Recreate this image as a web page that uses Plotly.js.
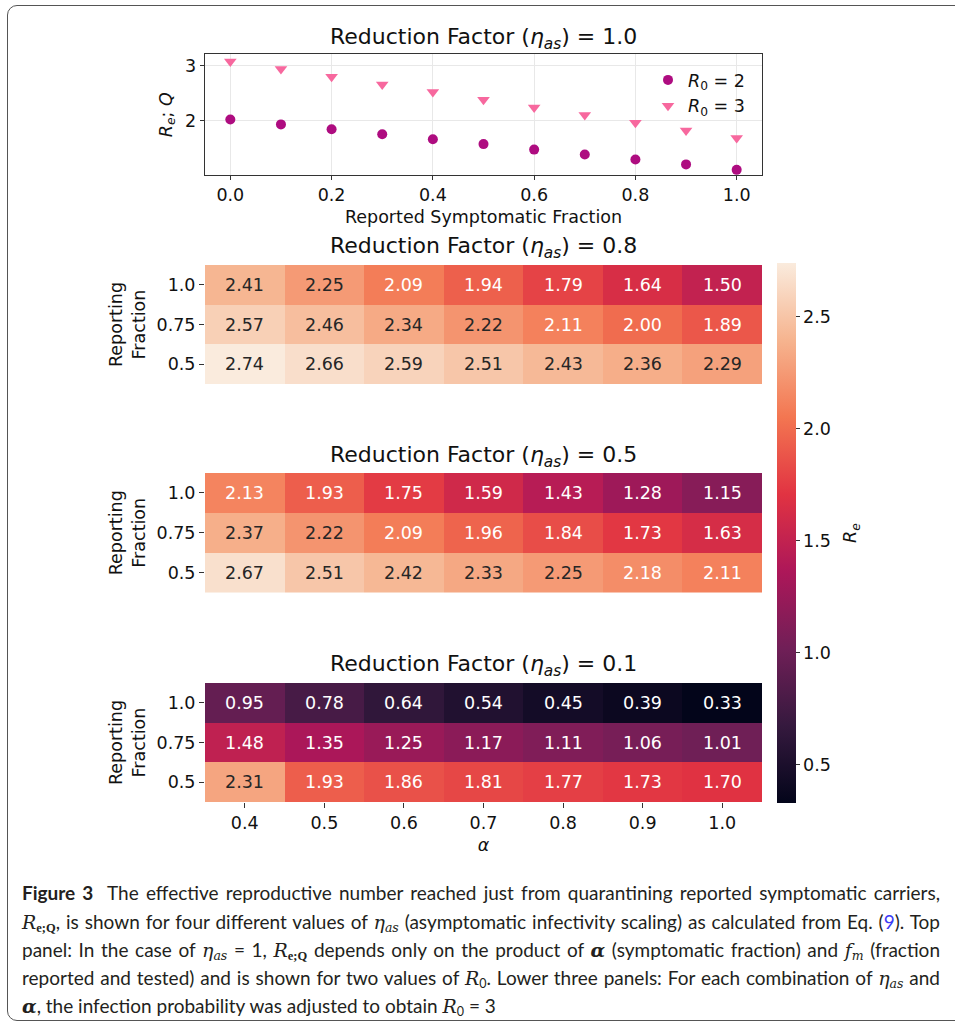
<!DOCTYPE html>
<html>
<head>
<meta charset="utf-8">
<script src="https://cdn.plot.ly/plotly-3.0.1.min.js"></script>
<style>
  html, body { margin: 0; padding: 0; background: #fff; }
  #wrap { position: relative; width: 955px; height: 1026px; overflow: hidden; }
  #chart { position: absolute; left: 0; top: 0; width: 955px; height: 1026px; }
  #frame { position: absolute; left: 7px; top: 5px; width: 980px; height: 1016px;
           border: 1.5px solid #555; border-radius: 10px; box-sizing: border-box; pointer-events: none; }
  .cap { position: absolute; left: 22px; width: 918px; white-space: nowrap;
         font-family: Lato, "Open Sans", sans-serif; font-size: 19px; color: #231f20;
         text-align: justify; text-align-last: justify; line-height: 20px; }
  .cap.last { text-align: left; text-align-last: left; }
  .m { font-family: "DejaVu Serif", "Liberation Serif", serif; font-style: italic; }
  .sb { font-size: 12.5px; vertical-align: -3px; line-height: 0; }
  .bs { font-family: "Liberation Serif", serif; font-weight: bold; font-style: normal; }
  .link { color: #3b3bf5; }
</style>
</head>
<body>
<div id="wrap">
  <div id="chart"></div>
  <div id="frame"></div>
  <div class="cap" style="top:883px"><b>Figure 3</b>&nbsp; The effective reproductive number reached just from quarantining reported symptomatic carriers,</div>
  <div class="cap" style="top:912px"><span class="m">R</span><span class="sb bs">e;Q</span>, is shown for four different values of <span class="m">η</span><span class="sb m">as</span> (asymptomatic infectivity scaling) as calculated from Eq. (<span class="link">9</span>). Top</div>
  <div class="cap" style="top:940px">panel: In the case of <span class="m">η</span><span class="sb m">as</span> = 1, <span class="m">R</span><span class="sb bs">e;Q</span> depends only on the product of <span class="m"><b>α</b></span> (symptomatic fraction) and <span class="m">f</span><span class="sb m">m</span> (fraction</div>
  <div class="cap" style="top:968px">reported and tested) and is shown for two values of <span class="m">R</span><span class="sb">0</span>. Lower three panels: For each combination of <span class="m">η</span><span class="sb m">as</span> and</div>
  <div class="cap last" style="top:996px"><span class="m"><b>α</b></span>, the infection probability was adjusted to obtain <span class="m">R</span><span class="sb">0</span> = 3</div>
</div>
<script>
// ---------- data ----------
const reportedSymptomaticFraction = [0.0, 0.1, 0.2, 0.3, 0.4, 0.5, 0.6, 0.7, 0.8, 0.9, 1.0];
const reQ_R0_2 = [2.02, 1.93, 1.84, 1.75, 1.66, 1.57, 1.47, 1.38, 1.29, 1.20, 1.10];
const reQ_R0_3 = [3.08, 2.94, 2.80, 2.66, 2.52, 2.38, 2.24, 2.10, 1.96, 1.82, 1.68];
const topXTicks = [0.0, 0.2, 0.4, 0.6, 0.8, 1.0];
const topXTickText = ["0.0", "0.2", "0.4", "0.6", "0.8", "1.0"];
const topYTicks = [2, 3];

const alphaLabels = ["0.4", "0.5", "0.6", "0.7", "0.8", "0.9", "1.0"];
const reportingLabels = ["1.0", "0.75", "0.5"];
const re_eta08 = [
  [2.41, 2.25, 2.09, 1.94, 1.79, 1.64, 1.50],
  [2.57, 2.46, 2.34, 2.22, 2.11, 2.00, 1.89],
  [2.74, 2.66, 2.59, 2.51, 2.43, 2.36, 2.29]
];
const re_eta05 = [
  [2.13, 1.93, 1.75, 1.59, 1.43, 1.28, 1.15],
  [2.37, 2.22, 2.09, 1.96, 1.84, 1.73, 1.63],
  [2.67, 2.51, 2.42, 2.33, 2.25, 2.18, 2.11]
];
const re_eta01 = [
  [0.95, 0.78, 0.64, 0.54, 0.45, 0.39, 0.33],
  [1.48, 1.35, 1.25, 1.17, 1.11, 1.06, 1.01],
  [2.31, 1.93, 1.86, 1.81, 1.77, 1.73, 1.70]
];
const etaValues = ["1.0", "0.8", "0.5", "0.1"];
const colorbarTicks = [0.5, 1.0, 1.5, 2.0, 2.5];
const colorbarTickText = ["0.5", "1.0", "1.5", "2.0", "2.5"];

// ---------- styling ----------
const W = 955, H = 1026;
const px = v => v / W;
const py = v => 1 - v / H;
const FONT = "DejaVu Sans";
const FS = 17.5;
const rocket = [
  [0.0, "#03051a"], [1/7, "#35193e"], [2/7, "#701f57"], [3/7, "#ad1759"],
  [4/7, "#e13342"], [5/7, "#f37651"], [6/7, "#f6b48f"], [1.0, "#faebdd"]
];
const allVals = [].concat(...re_eta08, ...re_eta05, ...re_eta01);
const zmin = Math.min(...allVals), zmax = Math.max(...allVals);

function hex2rgb(h) { return [1,3,5].map(i => parseInt(h.substr(i, 2), 16)); }
function colorAt(v) {
  let t = (v - zmin) / (zmax - zmin);
  t = Math.max(0, Math.min(1, t));
  for (let i = 1; i < rocket.length; i++) {
    if (t <= rocket[i][0]) {
      const a = rocket[i-1], b = rocket[i];
      const f = (t - a[0]) / (b[0] - a[0]);
      const ca = hex2rgb(a[1]), cb = hex2rgb(b[1]);
      return ca.map((c, k) => c + f * (cb[k] - c));
    }
  }
  return hex2rgb(rocket[rocket.length-1][1]);
}
function lum(rgb) {
  const l = rgb.map(c => { c /= 255; return c <= 0.03928 ? c / 12.92 : Math.pow((c + 0.055) / 1.055, 2.4); });
  return 0.2126 * l[0] + 0.7152 * l[1] + 0.0722 * l[2];
}

const xDom = [px(205), px(762)];
const panels = [
  { z: re_eta08, top: 265, bot: 384, title: 247.5 },
  { z: re_eta05, top: 473, bot: 592.5, title: 456 },
  { z: re_eta01, top: 683, bot: 802, title: 665 }
];

const traces = [
  { type: "scatter", mode: "markers", x: reportedSymptomaticFraction, y: reQ_R0_2,
    name: "<i>R</i><sub>0</sub> = 2", xaxis: "x", yaxis: "y",
    marker: { symbol: "circle", size: 10, color: "#ae0c80" } },
  { type: "scatter", mode: "markers", x: reportedSymptomaticFraction, y: reQ_R0_3,
    name: "<i>R</i><sub>0</sub> = 3", xaxis: "x", yaxis: "y",
    marker: { symbol: "triangle-down", size: 11, color: "#f7689e" } }
];

const annotations = [];
const TFS = 22;
const titleText = e => "Reduction Factor (<i>η</i><sub><i>as</i></sub>) = " + e;
annotations.push({ xref: "paper", yref: "paper", x: px(483.5), y: py(39), text: titleText(etaValues[0]),
  showarrow: false, xanchor: "center", yanchor: "middle", font: { family: FONT, size: TFS, color: "#111" } });

const layout = {
  width: W, height: H, margin: { l: 0, r: 0, t: 0, b: 0 },
  paper_bgcolor: "#fff", plot_bgcolor: "#fff",
  font: { family: FONT, size: FS, color: "#111" },
  showlegend: true,
  legend: { x: px(750), xanchor: "right", y: py(62), yanchor: "top", bgcolor: "rgba(0,0,0,0)",
            font: { family: FONT, size: FS, color: "#111" }, itemwidth: 30, tracegroupgap: 0 },
  xaxis: { domain: xDom, anchor: "y", range: [-0.05, 1.05], tickvals: topXTicks, ticktext: topXTickText,
           showgrid: true, gridcolor: "#e8e8e8", gridwidth: 1, zeroline: false,
           showline: true, mirror: true, linecolor: "#333", linewidth: 1.3,
           ticks: "outside", ticklen: 4, tickcolor: "#333", tickfont: { size: FS },
           title: { text: "Reported Symptomatic Fraction", font: { size: FS }, standoff: 6 } },
  yaxis: { domain: [py(175), py(54.3)], anchor: "x", range: [1.006, 3.21], tickvals: topYTicks,
           showgrid: true, gridcolor: "#e8e8e8", gridwidth: 1, zeroline: false,
           showline: true, mirror: true, linecolor: "#333", linewidth: 1.3,
           ticks: "outside", ticklen: 4, tickcolor: "#333", tickfont: { size: FS },
           title: { text: "<i>R<sub>e</sub></i>; <i>Q</i>", font: { size: FS }, standoff: 8 } },
  coloraxis: {
    colorscale: rocket, cmin: zmin, cmax: zmax,
    colorbar: { x: px(777), xanchor: "left", xref: "paper", y: py(263), yanchor: "top",
                len: 540, lenmode: "pixels", thickness: 19, thicknessmode: "pixels",
                xpad: 0, ypad: 0, outlinewidth: 0, ticks: "outside", ticklen: 4, tickcolor: "#333",
                tickvals: colorbarTicks, ticktext: colorbarTickText,
                tickfont: { family: FONT, size: FS, color: "#111" } }
  },
  annotations: annotations
};

panels.forEach((p, i) => {
  const n = i + 2;
  const xa = "x" + n, ya = "y" + n;
  traces.push({ type: "heatmap", x: alphaLabels, y: reportingLabels, z: p.z, coloraxis: "coloraxis",
                xaxis: xa, yaxis: ya, hoverinfo: "skip", xgap: 0, ygap: 0, showlegend: false });
  const last = i === panels.length - 1;
  layout["xaxis" + n] = { domain: xDom, anchor: ya, type: "category", showgrid: false, zeroline: false,
    showline: false, showticklabels: last, ticks: last ? "outside" : "", ticklen: 5, tickcolor: "#333",
    tickfont: { size: FS },
    title: last ? { text: "<i>α</i>", font: { size: FS }, standoff: 6 } : { text: "" } };
  layout["yaxis" + n] = { domain: [py(p.bot), py(p.top)], anchor: xa, type: "category",
    autorange: "reversed", showgrid: false, zeroline: false, showline: false,
    ticks: "outside", ticklen: 5, tickcolor: "#333", tickfont: { size: FS },
    title: { text: "Reporting<br>Fraction", font: { size: FS }, standoff: 6 } };
  annotations.push({ xref: "paper", yref: "paper", x: px(483.5), y: py(p.title), text: titleText(etaValues[i + 1]),
    showarrow: false, xanchor: "center", yanchor: "middle", font: { family: FONT, size: TFS, color: "#111" } });
  p.z.forEach((row, r) => row.forEach((v, c) => {
    const col = lum(colorAt(v)) > 0.408 ? "#262626" : "#ffffff";
    // category axes: position by category index
    annotations.push({ xref: xa, yref: ya, x: c, y: r, text: v.toFixed(2),
      showarrow: false, xanchor: "center", yanchor: "middle", font: { family: FONT, size: FS, color: col } });
  }));
});

annotations.push({ xref: "paper", yref: "paper", x: px(851), y: py(533), text: "<i>R</i><sub><i>e</i></sub>",
  textangle: -90, showarrow: false, xanchor: "center", yanchor: "middle", font: { family: FONT, size: FS, color: "#111" } });

Plotly.newPlot("chart", traces, layout, { staticPlot: true, displayModeBar: false });
</script>
</body>
</html>
